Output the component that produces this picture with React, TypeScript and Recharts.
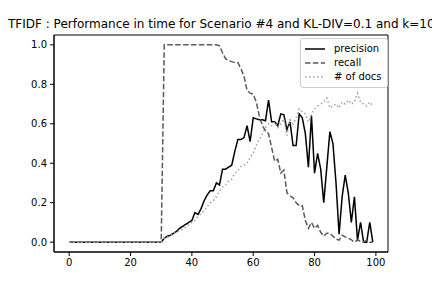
import { LineChart, Line, XAxis, YAxis, Legend, ReferenceArea } from "recharts";

const steps = Array.from({ length: 100 }, (_, i) => i);

// first 31 steps are all zero for every series
const zeros = Array(31).fill(0);

const precision = [
  ...zeros,
  0.02, 0.03, 0.035, 0.045, 0.055, 0.07, 0.08, 0.09, 0.1, 0.11,
  0.15, 0.14, 0.17, 0.21, 0.24, 0.26, 0.26, 0.3, 0.29, 0.37,
  0.37, 0.38, 0.39, 0.46, 0.52, 0.52, 0.53, 0.59, 0.51, 0.63,
  0.625, 0.62, 0.62, 0.615, 0.72, 0.61, 0.61, 0.59, 0.65, 0.645,
  0.57, 0.61, 0.49, 0.49, 0.65, 0.63, 0.55, 0.38, 0.64, 0.35,
  0.45, 0.37, 0.2, 0.38, 0.56, 0.5, 0.3, 0.04, 0.23, 0.34,
  0.25, 0.1, 0.23, 0.01, 0.1, 0.0, 0.0, 0.1, 0.0,
];

const recall = [
  ...zeros,
  1, 1, 1, 1, 1, 1, 1, 1, 1, 1,
  1, 1, 1, 1, 1, 1, 1, 1, 0.995, 0.96,
  0.93, 0.92, 0.915, 0.91, 0.91, 0.88, 0.84, 0.77, 0.755, 0.75,
  0.71, 0.64, 0.59, 0.565, 0.55, 0.48, 0.41, 0.42, 0.35, 0.365,
  0.25, 0.235, 0.225, 0.2, 0.185, 0.185, 0.11, 0.07, 0.1, 0.07,
  0.085, 0.05, 0.03, 0.045, 0.045, 0.03, 0.015, 0.01, 0.035, 0.027,
  0.02, 0.012, 0.0, 0.01, 0.005, 0.0, 0.01, 0.0, 0.0,
];

const docs = [
  ...zeros,
  0.02, 0.025, 0.035, 0.045, 0.05, 0.06, 0.065, 0.075, 0.09, 0.1,
  0.11, 0.13, 0.145, 0.16, 0.18, 0.2, 0.21, 0.23, 0.26, 0.28,
  0.29, 0.31, 0.32, 0.35, 0.36, 0.385, 0.39, 0.4, 0.43, 0.45,
  0.49, 0.52, 0.55, 0.58, 0.6, 0.59, 0.61, 0.58, 0.6, 0.625,
  0.54, 0.62, 0.6, 0.63, 0.675, 0.66, 0.65, 0.61, 0.65, 0.675,
  0.69, 0.7, 0.71, 0.73, 0.68, 0.69, 0.7, 0.68, 0.71, 0.7,
  0.72, 0.7, 0.71, 0.755, 0.71, 0.7, 0.69, 0.71, 0.69,
];

const legendOrder = ["precision", "recall", "# of docs"];
const xTicks = [0, 20, 40, 60, 80, 100];
const yTicks = [0, 0.2, 0.4, 0.6, 0.8, 1.0];
const xDomain = [-4.95, 103.95];
const yDomain = [-0.05, 1.05];

const data = steps.map((t, i) => ({
  t,
  precision: precision[i],
  recall: recall[i],
  docs: docs[i],
}));

const font = "'DejaVu Sans', sans-serif";

function LegendBox({ payload }: any) {
  const items = [...(payload || [])].sort(
    (a: any, b: any) => legendOrder.indexOf(a.value) - legendOrder.indexOf(b.value)
  );
  return (
    <div
      style={{
        border: "1px solid #cccccc",
        borderRadius: 3,
        background: "rgba(255,255,255,0.8)",
        padding: "3px 5px 3px 4px",
        fontFamily: font,
        fontSize: 10,
        color: "#000",
        lineHeight: "14px",
      }}
    >
      {items.map((p: any) => (
        <div key={p.value} style={{ display: "flex", alignItems: "center" }}>
          <svg width={20} height={14} style={{ marginRight: 9 }}>
            <line
              x1={0}
              x2={20}
              y1={7}
              y2={7}
              stroke={p.color}
              strokeWidth={1.5}
              strokeDasharray={p.payload?.strokeDasharray}
            />
          </svg>
          <span>{p.value}</span>
        </div>
      ))}
    </div>
  );
}

export default function App() {
  return (
    <div
      style={{
        position: "absolute",
        left: 0,
        top: 0,
        width: 432,
        height: 288,
        background: "#fff",
        fontFamily: font,
      }}
    >
      <div
        style={{
          position: "absolute",
          left: 8,
          top: 17,
          fontSize: 12,
          whiteSpace: "nowrap",
          color: "#000",
        }}
      >
        TFIDF : Performance in time for Scenario #4 and KL-DIV=0.1 and k=10
      </div>
      <LineChart
        width={432}
        height={288}
        data={data}
        margin={{ top: 35, right: 44, bottom: 0, left: 0 }}
        style={{ overflow: "hidden" }}
      >
        <XAxis
          dataKey="t"
          type="number"
          domain={xDomain}
          ticks={xTicks}
          allowDataOverflow
          height={36}
          tickSize={4}
          tickMargin={3}
          stroke="#000"
          tick={{ fill: "#000", fontSize: 10, fontFamily: font }}
        />
        <YAxis
          type="number"
          domain={yDomain}
          ticks={yTicks}
          allowDataOverflow
          width={54}
          tickSize={4}
          tickMargin={3}
          stroke="#000"
          tickFormatter={(v: number) => v.toFixed(1)}
          tick={{ fill: "#000", fontSize: 10, fontFamily: font }}
        />
        {/* frame around the plot like matplotlib spines */}
        <ReferenceArea
          x1={xDomain[0]}
          x2={xDomain[1]}
          y1={yDomain[0]}
          y2={yDomain[1]}
          fill="none"
          fillOpacity={0}
          stroke="#000"
          strokeWidth={1}
          ifOverflow="visible"
        />
        <Legend
          layout="horizontal"
          verticalAlign="middle"
          align="center"
          content={<LegendBox />}
          wrapperStyle={{ left: 300, top: 38, width: "auto", right: "auto" }}
        />
        <Line
          dataKey="precision"
          name="precision"
          stroke="#000000"
          strokeWidth={1.5}
          dot={false}
          isAnimationActive={false}
        />
        <Line
          dataKey="recall"
          name="recall"
          stroke="#5a5a5a"
          strokeWidth={1.5}
          strokeDasharray="5.5 2.4"
          dot={false}
          isAnimationActive={false}
        />
        <Line
          dataKey="docs"
          name="# of docs"
          stroke="#a3a3a3"
          strokeWidth={1.5}
          strokeDasharray="1.5 2.5"
          dot={false}
          isAnimationActive={false}
        />
      </LineChart>
    </div>
  );
}
